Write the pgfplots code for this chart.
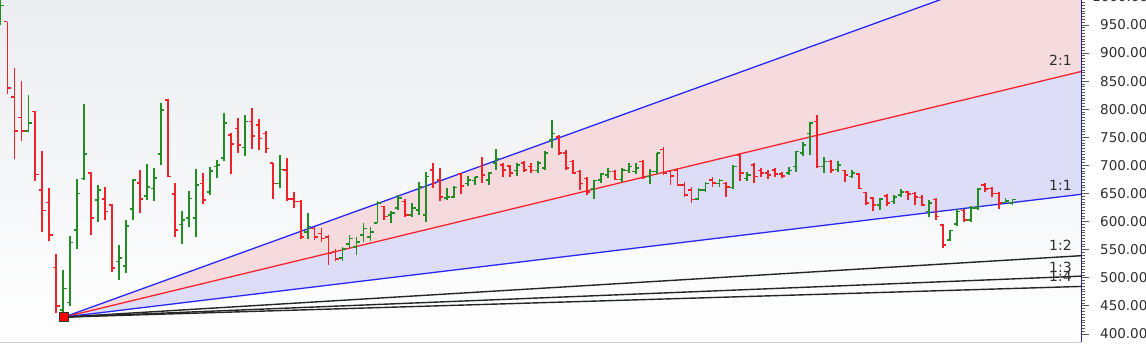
\documentclass[border=0pt]{standalone}
\usepackage{pgfplots}
\pgfplotsset{compat=1.18}
\usepackage{pgfplotstable}
\usepackage{fontspec}
\setmainfont{DejaVu Sans}
\definecolor{barred}{RGB}{240,36,40}
\definecolor{bargreen}{RGB}{36,140,36}
\definecolor{fanblue}{RGB}{40,40,245}
\definecolor{fanred}{RGB}{250,35,45}
\definecolor{pinkfill}{RGB}{245,219,222}
\definecolor{lavfill}{RGB}{221,221,247}
\definecolor{bgtop}{RGB}{235,237,240}
\definecolor{axisblue}{RGB}{40,40,150}
\definecolor{lbl}{RGB}{45,45,45}
\pgfdeclareplotmark{otick}{\pgfpathmoveto{\pgfqpoint{-\pgfplotmarksize}{0pt}}\pgfpathlineto{\pgfqpoint{0pt}{0pt}}\pgfusepathqstroke}
\pgfdeclareplotmark{ctick}{\pgfpathmoveto{\pgfqpoint{0pt}{0pt}}\pgfpathlineto{\pgfqpoint{\pgfplotmarksize}{0pt}}\pgfusepathqstroke}
\pgfplotstableread{
k o h l c
0 959 1010 950 985
4 761 825 760 775
9 443 513 436 481
10 456 574 449 563
11 585 676 552 650
12 677 809 674 720
14 638 665 600 656
17 529 558 496 535
18 521 603 508 592
19 622 676 603 674
21 646 703 638 662
22 659 695 637 678
23 720 811 701 799
26 595 618 560 603
27 606 655 591 641
28 606 694 573 665
30 653 698 647 690
31 698 710 677 701
32 713 793 707 776
35 732 790 717 778
40 668 719 659 693
44 582 615 569 591
49 535 555 529 551
50 560 576 553 570
51 555 573 541 564
52 576 598 564 588
53 573 590 566 582
54 598 636 597 633
56 612 618 597 615
57 624 647 621 642
59 612 633 609 624
60 621 671 612 662
61 612 689 600 680
64 642 659 639 644
65 644 663 642 661
67 668 681 663 674
68 673 680 665 679
70 674 689 665 687
71 704 729 692 711
74 691 704 681 701
77 691 707 687 704
78 695 725 692 722
79 745 780 731 757
85 658 674 640 673
86 674 687 668 685
87 683 695 677 689
89 675 695 671 692
90 691 705 687 698
91 689 704 685 695
93 680 693 667 689
94 689 723 685 722
100 640 659 639 656
101 656 671 653 668
103 668 675 661 673
105 661 701 658 698
107 677 689 673 683
113 687 698 683 691
114 698 726 689 725
115 722 741 717 736
116 757 778 719 775
118 698 715 687 707
120 693 707 689 701
122 680 691 677 687
126 630 642 621 640
128 636 647 631 644
129 647 658 644 653
133 618 639 609 633
136 567 585 566 584
137 596 622 592 618
139 603 627 600 624
140 624 659 621 658
144 634 642 633 637
145 633 640 630 639
}\upbars
\pgfplotstableread{
k o h l c
1 956 956 827 838
2 822 873 712 761
3 785 850 744 761
5 796 796 672 684
6 656 726 581 620
7 634 659 566 576
8 518 542 437 450
13 686 689 576 606
15 640 662 603 618
16 630 631 511 517
20 669 692 616 640
24 816 818 680 680
25 649 668 573 585
29 668 686 631 638
33 754 758 685 738
34 766 784 723 736
36 778 802 729 752
37 772 783 727 748
38 757 761 723 730
39 704 705 640 668
41 692 713 637 640
42 640 653 625 636
43 636 639 569 573
45 588 591 567 573
46 579 588 564 570
47 573 576 523 544
48 547 551 529 533
55 627 628 603 609
58 636 640 609 612
62 692 704 659 668
63 674 695 636 644
66 685 686 650 663
69 698 715 668 683
72 701 705 680 692
73 699 701 680 686
75 704 707 689 692
76 698 704 686 691
80 751 754 719 722
81 722 728 692 695
82 707 710 685 686
83 689 692 656 668
84 677 680 647 653
88 689 692 674 675
92 707 709 675 679
95 728 732 683 686
96 689 691 665 681
97 692 695 663 665
98 665 671 644 647
99 656 661 633 639
102 674 679 661 669
104 668 671 644 662
106 719 723 673 687
108 701 705 669 680
109 691 695 679 687
110 687 692 675 683
111 692 695 680 685
112 685 689 677 681
117 778 790 695 698
119 707 710 686 692
121 691 692 671 683
123 685 686 658 659
124 652 653 630 633
125 642 644 618 630
127 646 649 628 633
130 653 655 639 649
131 650 653 630 644
132 643 647 627 630
134 639 642 603 609
135 594 596 553 558
138 620 622 600 603
141 665 669 653 658
142 659 662 644 650
143 650 652 622 633
}\downbars
\begin{document}
\begin{tikzpicture}
\useasboundingbox (0pt,-1.5pt) rectangle (1146pt,342.5pt);
\begin{axis}[
  at={(0pt,0pt)}, anchor=south west,
  scale only axis, width=1081pt, height=342.5pt,
  xmin=-0.07, xmax=154.8, ymin=384.8, ymax=994.5,
  axis x line*=bottom, axis y line*=right,
  x axis line style={draw={rgb,255:red,200;green,200;blue,218}, line width=0.8pt},
  y axis line style={draw=axisblue, line width=0.9pt},
  xtick=\empty,
  ytick={400,450,...,1000},
  minor y tick num=9,
  tick align=outside,
  major tick length=8pt, minor tick length=4pt,
  every tick/.style={draw=black!65, line width=0.8pt},
  /pgf/number format/assume math mode=true,
  yticklabel style={font=\fontsize{13.5}{14}\selectfont, text=lbl, anchor=west, inner sep=0pt, xshift=11pt,
    /pgf/number format/.cd, fixed, fixed zerofill, precision=2, 1000 sep={}},
  axis background/.style={shade, top color=bgtop, bottom color=white},
]
% fan fills
\addplot[fill=pinkfill, draw=none] coordinates {(9.1,430) (154.8,1085.7) (154.8,867.1)} -- cycle;
\addplot[fill=lavfill, draw=none] coordinates {(9.1,430) (154.8,867.1) (154.8,648.6)} -- cycle;
% fan lines
\addplot[fanblue, line width=1.3pt] coordinates {(9.1,430) (154.8,1085.7)};
\addplot[fanred, line width=1.3pt] coordinates {(9.1,430) (154.8,867.1)};
\addplot[fanblue, line width=1.3pt] coordinates {(9.1,430) (154.8,648.6)};
\addplot[black!85, line width=1.4pt] coordinates {(9.1,430) (154.8,539.3)};
\addplot[black!85, line width=1.4pt] coordinates {(9.1,430) (154.8,502.9)};
\addplot[black!85, line width=1.4pt] coordinates {(9.1,430) (154.8,484.6)};
% OHLC bars: high-low ranges
\addplot[draw=none, mark=none, error bars/.cd, y dir=plus, y explicit, error mark=none,
  error bar style={line width=1.8pt, draw=bargreen}]
  table[x=k, y=l, y error plus expr=\thisrow{h}-\thisrow{l}] {\upbars};
\addplot[draw=none, mark=none, error bars/.cd, y dir=plus, y explicit, error mark=none,
  error bar style={line width=1.8pt, draw=barred}]
  table[x=k, y=l, y error plus expr=\thisrow{h}-\thisrow{l}] {\downbars};
% open and close ticks
\addplot[only marks, mark=otick, mark size=3.2pt, draw=bargreen, mark options={line width=1.6pt}] table[x=k, y=o] {\upbars};
\addplot[only marks, mark=ctick, mark size=3.2pt, draw=bargreen, mark options={line width=1.6pt}] table[x=k, y=c] {\upbars};
\addplot[only marks, mark=otick, mark size=3.2pt, draw=barred, mark options={line width=1.6pt}] table[x=k, y=o] {\downbars};
\addplot[only marks, mark=ctick, mark size=3.2pt, draw=barred, mark options={line width=1.6pt}] table[x=k, y=c] {\downbars};
% anchor square
\addplot[only marks, mark=square*, mark size=4.5pt, mark options={fill=red, draw=black!80, line width=0.8pt}] coordinates {(9.1,430)};
% fan labels
\node[anchor=base east, inner sep=0pt, text=lbl, font=\fontsize{14}{14}\selectfont] at (axis cs:153.5,878) {2:1};
\node[anchor=base east, inner sep=0pt, text=lbl, font=\fontsize{14}{14}\selectfont] at (axis cs:153.5,656) {1:1};
\node[anchor=base east, inner sep=0pt, text=lbl, font=\fontsize{14}{14}\selectfont] at (axis cs:153.5,548) {1:2};
\node[anchor=base east, inner sep=0pt, text=lbl, font=\fontsize{14}{14}\selectfont] at (axis cs:153.5,509) {1:3};
\node[anchor=base east, inner sep=0pt, text=lbl, font=\fontsize{14}{14}\selectfont] at (axis cs:153.5,493) {1:4};
\end{axis}
\node[anchor=west, inner sep=0pt, text=lbl, font=\fontsize{13.5}{14}\selectfont] at (1092pt,345.5pt) {1000.00};
\end{tikzpicture}
\end{document}
